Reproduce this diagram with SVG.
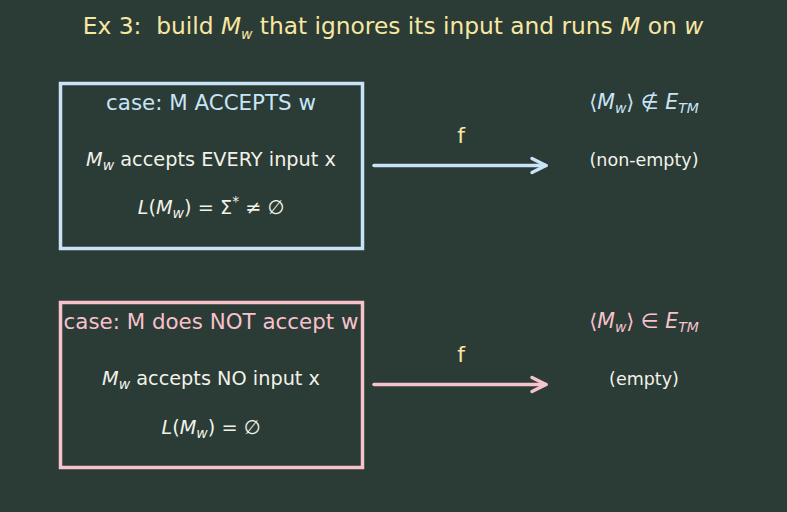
<svg xmlns="http://www.w3.org/2000/svg" width="787" height="512" viewBox="0 0 787 512">
<defs>
<style>
text{font-family:"DejaVu Sans","Liberation Sans",sans-serif;text-anchor:middle;white-space:pre}
.i{font-style:italic}
.title{fill:#f8e7a2;font-size:23.3px}
.blue{fill:#c9e4f8}
.pink{fill:#f7c2cc}
.wh{fill:#f2f2ea}
.yl{fill:#f8e7a2}
.sub{font-size:14px}
</style>
<marker id="ab" viewBox="0 0 20 20" refX="17" refY="10" markerWidth="20" markerHeight="20" markerUnits="userSpaceOnUse" orient="auto"><path d="M3 3 L17 10 L3 17" fill="none" stroke="#c9e4f8" stroke-width="3.5" stroke-linecap="round" stroke-linejoin="round"/></marker>
<marker id="ap" viewBox="0 0 20 20" refX="17" refY="10" markerWidth="20" markerHeight="20" markerUnits="userSpaceOnUse" orient="auto"><path d="M3 3 L17 10 L3 17" fill="none" stroke="#f7c2cc" stroke-width="3.5" stroke-linecap="round" stroke-linejoin="round"/></marker>
</defs>
<rect width="787" height="512" fill="#2b3b35"/>
<g id="title"><text x="393" y="34" class="title">Ex 3:  build <tspan class="i">M</tspan><tspan class="i sub" dy="5">w</tspan><tspan dy="-5"> that ignores its input and runs </tspan><tspan class="i">M</tspan> on <tspan class="i">w</tspan></text></g>
<g id="box-accepts">
<rect x="60.5" y="83.5" width="302" height="165" fill="none" stroke="#c9e4f8" stroke-width="3.5"/>
<text x="211" y="110" class="blue" font-size="21.4">case: M ACCEPTS w</text>
<text x="211" y="166" class="wh" font-size="19.3"><tspan class="i">M</tspan><tspan class="i sub" dy="4">w</tspan><tspan dy="-4"> accepts EVERY input x</tspan></text>
<text x="211" y="214" class="wh" font-size="19.3"><tspan class="i">L</tspan>(<tspan class="i">M</tspan><tspan class="i sub" dy="4">w</tspan><tspan dy="-4">) = Σ</tspan><tspan class="sub" dy="-8">*</tspan><tspan dy="8"> ≠ ∅</tspan></text>
</g>
<g id="box-rejects">
<rect x="60.5" y="302.5" width="302" height="165" fill="none" stroke="#f7c2cc" stroke-width="3.5"/>
<text x="211" y="329" class="pink" font-size="21.4">case: M does NOT accept w</text>
<text x="211" y="385" class="wh" font-size="19.3"><tspan class="i">M</tspan><tspan class="i sub" dy="4">w</tspan><tspan dy="-4"> accepts NO input x</tspan></text>
<text x="211" y="434" class="wh" font-size="19.3"><tspan class="i">L</tspan>(<tspan class="i">M</tspan><tspan class="i sub" dy="4">w</tspan><tspan dy="-4">) = ∅</tspan></text>
</g>
<g id="result-nonempty">
<text x="644" y="109" class="blue" font-size="20.5">⟨<tspan class="i">M</tspan><tspan class="i sub" dy="4">w</tspan><tspan dy="-4">⟩ ∉ </tspan><tspan class="i">E</tspan><tspan class="i sub" dy="4">TM</tspan></text>
<text x="644" y="166" class="wh" font-size="17.5">(non-empty)</text>
</g>
<g id="result-empty">
<text x="644" y="328" class="pink" font-size="20.5">⟨<tspan class="i">M</tspan><tspan class="i sub" dy="4">w</tspan><tspan dy="-4">⟩ ∈ </tspan><tspan class="i">E</tspan><tspan class="i sub" dy="4">TM</tspan></text>
<text x="644" y="385" class="wh" font-size="17.5">(empty)</text>
</g>
<g id="connectors">
<line x1="374" y1="165.5" x2="546" y2="165.5" stroke="#c9e4f8" stroke-width="3.5" stroke-linecap="round" marker-end="url(#ab)"/>
<text x="461" y="143" class="yl" font-size="22">f</text>
<line x1="374" y1="384.5" x2="546" y2="384.5" stroke="#f7c2cc" stroke-width="3.5" stroke-linecap="round" marker-end="url(#ap)"/>
<text x="461" y="362" class="yl" font-size="22">f</text>
</g>
</svg>
